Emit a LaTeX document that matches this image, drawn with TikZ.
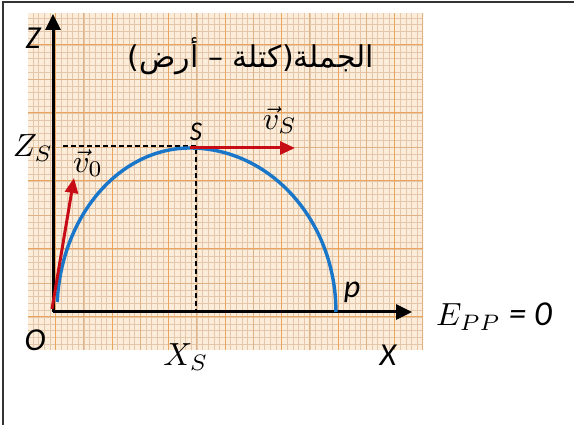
\documentclass[tikz,border=0pt]{standalone}
\usepackage{amsmath}
\usepackage{fontspec}
\usepackage{tikz}
\usetikzlibrary{arrows.meta}
\usepackage{xcolor}
\TeXXeTstate=1
\newfontfamily\arabicfont[Script=Arabic]{DejaVu Sans}
\newfontfamily\calfont{Carlito}
\newcommand{\mathlbl}[1]{\scalebox{3.2}{$#1$}}
\definecolor{paper}{RGB}{252,236,218}
\definecolor{fineline}{RGB}{228,199,170}
\definecolor{midline}{RGB}{220,178,134}
\definecolor{majorline}{RGB}{234,165,95}
\definecolor{traj}{RGB}{25,118,200}
\definecolor{vecred}{RGB}{200,12,22}

\begin{document}
\begin{tikzpicture}[x=1pt,y=1pt,
    lbl/.style={inner sep=0pt,font=\fontsize{32}{36}\selectfont\calfont\itshape},
    mlbl/.style={inner sep=0pt},
    axisline/.style={line width=3pt,-{Triangle[length=16pt,width=15pt]}},
    vecline/.style={line width=3pt,vecred,-{Triangle[length=15pt,width=13pt]}},
    guide/.style={line width=1.1pt,dash pattern=on 5pt off 3pt}]
  \useasboundingbox (0,0) rectangle (574,425);
  % frame
  \draw[line width=1.2pt,black!80](3,0)--(3,423)--(574,423);
  % graph paper
  \fill[paper](28,75) rectangle (423,412);
  \begin{scope}
    \clip(28,75) rectangle (423,412);
    \foreach \i in {-15,...,55}
      \draw[fineline,line width=0.4pt]({112+5.65*\i},75)--++(0,337);
    \foreach \i in {-35,...,15}
      \draw[fineline,line width=0.4pt](28,{312+6.8*\i})--++(395,0);
    \foreach \i in {-2,...,5}
      \draw[midline,line width=0.6pt]({140.25+56.5*\i},75)--++(0,337);
    \foreach \i in {-4,...,1}
      \draw[midline,line width=0.6pt](28,{346+68*\i})--++(395,0);
    \foreach \i in {-1,...,5}
      \draw[majorline,line width=1pt]({112+56.5*\i},75)--++(0,337);
    \foreach \i in {-3,...,1}
      \draw[majorline,line width=1pt](28,{312+68*\i})--++(395,0);
  \end{scope}

  \coordinate (O) at (53,113);
  \coordinate (Ztop) at (53,411);
  \coordinate (Xend) at (412,113);
  \coordinate (S) at (190,277);
  \coordinate (vSend) at (295,277);
  \coordinate (v0start) at (52,116);
  \coordinate (v0end) at (74,247);
  \coordinate (ZSend) at (63,279);
  \coordinate (Stop) at (196,279);
  \coordinate (XSfoot) at (196,113);

  % axes
  \draw[axisline](O)--(Ztop);
  \draw[axisline](O)--(Xend);
  \draw[guide](ZSend)--(Stop)--(XSfoot);

  % trajectory
  \draw[traj,line width=3.4pt](57.2,123) arc[start angle=176.5,end angle=90,x radius=133,y radius=164]
    arc[start angle=90,end angle=0,x radius=146,y radius=164];

  % velocity vectors
  \draw[vecline](v0start)--(v0end);
  \draw[vecline](S)--(vSend);

  % labels
  \node[lbl] (zlab) at (33,387) {Z};
  \node[lbl] (olab) at (35,85) {O};
  \node[lbl] (xlab) at (388,70) {X};
  \node[lbl] (plab) at (352,133) {p};
  \node[lbl,font=\fontsize{27}{30}\selectfont\calfont\itshape] (slab) at (196,293) {S};
  \node[mlbl] (zslab) at (33,277) {\mathlbl{Z_S}};
  \node[mlbl] (xslab) at (186,68) {\mathlbl{X_S}};
  \node[mlbl] (vslab) at (280,305) {\mathlbl{\vec{v}_S}};
  \node[mlbl] (v0lab) at (88,262) {\mathlbl{\vec{v}_0}};
  \node[mlbl,anchor=west] (eplab) at (436,108)
    {\mathlbl{E_{PP}}\hspace{8pt}{\calfont\itshape\fontsize{35}{40}\selectfont = 0}};
  \node[inner sep=0pt,font=\arabicfont\fontsize{30}{34}\selectfont] (title) at (251,369)
    {\beginR الجملة(كتلة – أرض)\endR};
\end{tikzpicture}
\end{document}
